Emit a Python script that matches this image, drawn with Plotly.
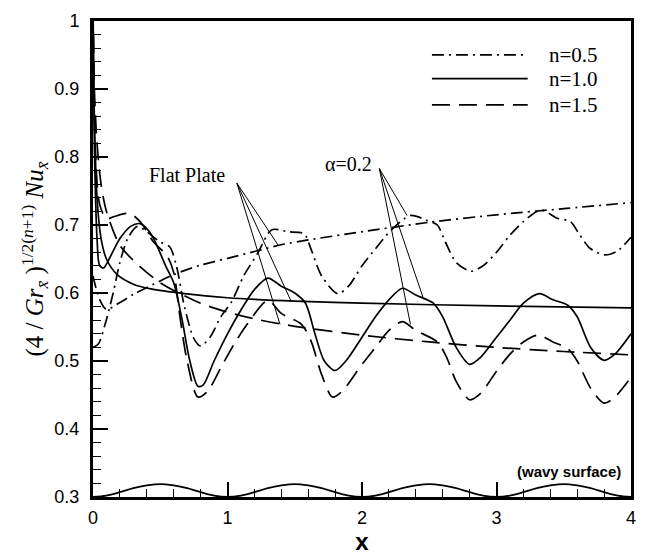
import plotly.graph_objects as go

# ---------------- data ----------------
flat05_x = [0.0, 0.05, 0.1, 0.2, 0.3, 0.4, 0.6, 0.8, 1.0, 1.2, 1.4, 1.6, 2.0, 2.5, 3.0, 3.5, 4.0]
flat05_y = [0.625, 0.59, 0.576, 0.586, 0.598, 0.608, 0.627, 0.641, 0.651, 0.661, 0.671, 0.678, 0.690, 0.704, 0.715, 0.724, 0.733]

flat10_x = [0.0, 0.01, 0.03, 0.06, 0.1, 0.18, 0.3, 0.43, 0.68, 1.0, 1.5, 2.0, 3.0, 4.0]
flat10_y = [1.02, 0.86, 0.74, 0.68, 0.65, 0.627, 0.613, 0.606, 0.599, 0.593, 0.588, 0.585, 0.581, 0.578]

flat15_x = [0.0, 0.01, 0.03, 0.06, 0.1, 0.2, 0.3, 0.5, 0.8, 1.0, 1.2, 1.5, 2.0, 2.5, 3.0, 3.5, 4.0]
flat15_y = [1.02, 0.90, 0.82, 0.76, 0.72, 0.67, 0.648, 0.615, 0.585, 0.572, 0.562, 0.551, 0.538, 0.528, 0.52, 0.514, 0.509]

wavy05_x = [0.0, 0.04, 0.09, 0.15, 0.2, 0.26, 0.33, 0.4, 0.5, 0.57, 0.62, 0.68, 0.75, 0.8, 0.87, 0.95,
            1.03, 1.12, 1.22, 1.33, 1.45, 1.57, 1.62, 1.7, 1.82, 1.9, 2.0, 2.1, 2.21, 2.36, 2.48, 2.56,
            2.62, 2.7, 2.81, 2.9, 3.0, 3.1, 3.2, 3.33, 3.45, 3.55, 3.62, 3.7, 3.81, 3.9, 4.0]
wavy05_y = [0.52, 0.525, 0.554, 0.6, 0.645, 0.681, 0.698, 0.69, 0.675, 0.668, 0.64, 0.58, 0.533, 0.522, 0.535, 0.565,
            0.587, 0.625, 0.657, 0.693, 0.69, 0.687, 0.665, 0.625, 0.599, 0.61, 0.64, 0.665, 0.691, 0.714, 0.707, 0.70,
            0.675, 0.645, 0.632, 0.64, 0.66, 0.685, 0.705, 0.722, 0.71, 0.705, 0.685, 0.665, 0.656, 0.662, 0.682]

wavy10_x = [0.0, 0.01, 0.03, 0.05, 0.08, 0.12, 0.2, 0.28, 0.35, 0.42, 0.47, 0.54, 0.6, 0.66, 0.72, 0.78, 0.82, 0.9,
            1.0, 1.1, 1.2, 1.3, 1.4, 1.5, 1.58, 1.65, 1.72, 1.8, 1.88, 2.0, 2.1, 2.2, 2.3, 2.4, 2.53, 2.6,
            2.7, 2.8, 2.88, 3.0, 3.1, 3.2, 3.32, 3.42, 3.53, 3.6, 3.7, 3.8, 3.88, 4.0]
wavy10_y = [1.02, 0.82, 0.68, 0.64, 0.637, 0.65, 0.68, 0.698, 0.702, 0.69, 0.672, 0.64, 0.615, 0.563, 0.50, 0.463, 0.465, 0.50,
            0.54, 0.575, 0.605, 0.622, 0.61, 0.60, 0.585, 0.54, 0.50, 0.486, 0.50, 0.535, 0.565, 0.59, 0.607, 0.597, 0.585, 0.565,
            0.52, 0.495, 0.505, 0.535, 0.56, 0.585, 0.599, 0.59, 0.582, 0.565, 0.52, 0.501, 0.51, 0.54]

wavy15_x = [0.0, 0.02, 0.05, 0.1, 0.15, 0.27, 0.35, 0.45, 0.55, 0.6, 0.65, 0.7, 0.78, 0.85, 0.95,
            1.05, 1.15, 1.3, 1.4, 1.55, 1.62, 1.7, 1.78, 1.85, 2.0, 2.1, 2.2, 2.3, 2.4, 2.56, 2.63,
            2.7, 2.8, 2.88, 3.0, 3.1, 3.2, 3.31, 3.42, 3.53, 3.6, 3.7, 3.8, 3.88, 4.0]
wavy15_y = [1.02, 0.80, 0.73, 0.709, 0.712, 0.717, 0.705, 0.675, 0.655, 0.63, 0.56, 0.50, 0.447, 0.455, 0.49,
            0.525, 0.555, 0.589, 0.57, 0.554, 0.53, 0.48, 0.447, 0.455, 0.495, 0.52, 0.545, 0.558, 0.545, 0.528, 0.505,
            0.47, 0.443, 0.452, 0.485, 0.51, 0.528, 0.538, 0.528, 0.518, 0.50, 0.46, 0.438, 0.447, 0.476]

surface_x = [i / 10 for i in range(41)]
surface_y = [0.300, 0.302, 0.307, 0.313, 0.317, 0.319, 0.317, 0.313, 0.307, 0.302,
             0.300, 0.302, 0.307, 0.313, 0.317, 0.319, 0.317, 0.313, 0.307, 0.302,
             0.300, 0.302, 0.307, 0.313, 0.317, 0.319, 0.317, 0.313, 0.307, 0.302,
             0.300, 0.302, 0.307, 0.313, 0.317, 0.319, 0.317, 0.313, 0.307, 0.302,
             0.300]

legend_labels = ["n=0.5", "n=1.0", "n=1.5"]

# leader-line targets (x, y)
flat_label = (0.70, 0.773)
flat_apex = (1.07, 0.7615)
flat_targets = [(1.378, 0.670), (1.475, 0.587), (1.39, 0.554)]
alpha_label = (1.90, 0.79)
alpha_apex = (2.129, 0.783)
alpha_targets = [(2.335, 0.714), (2.458, 0.591), (2.36, 0.554)]

# ---------------- styling ----------------
DASHDOT = "12px,5px,2px,5px"
DASH = "18px,9px"
SERIF = "Liberation Serif"
SANS = "Liberation Sans"
LW = 1.7

fig = go.Figure()

def add(x, y, dash):
    fig.add_trace(go.Scatter(x=x, y=y, mode="lines",
                             line=dict(color="black", width=LW, dash=dash, shape="spline", smoothing=0.8),
                             showlegend=False, hoverinfo="skip"))

add(flat05_x, flat05_y, DASHDOT)
add(flat10_x, flat10_y, "solid")
add(flat15_x, flat15_y, DASH)
add(wavy05_x, wavy05_y, DASHDOT)
add(wavy10_x, wavy10_y, "solid")
add(wavy15_x, wavy15_y, DASH)
fig.add_trace(go.Scatter(x=surface_x, y=surface_y, mode="lines",
                         line=dict(color="black", width=1.8, shape="spline"),
                         showlegend=False, hoverinfo="skip"))

shapes = []
for tx, ty in flat_targets:
    shapes.append(dict(type="line", xref="x", yref="y", x0=flat_apex[0], y0=flat_apex[1], x1=tx, y1=ty,
                       line=dict(color="black", width=1)))
for tx, ty in alpha_targets:
    shapes.append(dict(type="line", xref="x", yref="y", x0=alpha_apex[0], y0=alpha_apex[1], x1=tx, y1=ty,
                       line=dict(color="black", width=1)))

# manual legend
leg_rows = [0.929, 0.879, 0.824]
leg_dash = [DASHDOT, "solid", DASH]
annotations = []
for lab, yy, dd in zip(legend_labels, leg_rows, leg_dash):
    shapes.append(dict(type="line", xref="paper", yref="paper", x0=0.63, x1=0.808, y0=yy, y1=yy,
                       line=dict(color="black", width=LW, dash=dd)))
    annotations.append(dict(xref="paper", yref="paper", x=0.843, y=yy, text=lab, showarrow=False,
                            xanchor="left", yanchor="middle", font=dict(family=SERIF, size=21, color="black")))

annotations.append(dict(x=flat_label[0], y=flat_label[1], text="Flat Plate", showarrow=False,
                        xanchor="center", yanchor="middle", font=dict(family=SERIF, size=20, color="black")))
annotations.append(dict(x=alpha_label[0], y=alpha_label[1], text="α=0.2", showarrow=False,
                        xanchor="center", yanchor="middle", font=dict(family=SERIF, size=20, color="black")))
annotations.append(dict(x=3.94, y=0.337, text="<b>(wavy surface)</b>", showarrow=False,
                        xanchor="right", yanchor="middle", font=dict(family=SANS, size=15, color="black")))

axis_common = dict(showgrid=False, zeroline=False, showline=True, linecolor="black", linewidth=3,
                   mirror=True, ticks="inside", ticklen=15, tickwidth=2, tickcolor="black",
                   tickfont=dict(family=SANS, size=18, color="black"))

fig.update_layout(
    width=647, height=555,
    margin=dict(l=93, r=11, t=15, b=46),
    paper_bgcolor="white", plot_bgcolor="white",
    shapes=shapes, annotations=annotations,
    xaxis=dict(range=[0, 4], dtick=1, tick0=0, ticklabelstandoff=2,
               minor=dict(dtick=0.2, ticks="inside", ticklen=8, tickwidth=1.2, tickcolor="black"),
               title=dict(text="<b>x</b>", font=dict(family=SANS, size=24, color="black"), standoff=0),
               **axis_common),
    yaxis=dict(range=[0.3, 1.0], dtick=0.1, tick0=0.3, ticklabelstandoff=7,
               minor=dict(dtick=0.02, ticks="inside", ticklen=8, tickwidth=1.2, tickcolor="black"),
               title=dict(text="(4 / <i>Gr</i><sub><i>x\u0304</i></sub> )<sup>1/2(<i>n</i>+1)</sup> <i>Nu</i><sub><i>x\u0304</i></sub>",
                          font=dict(family=SERIF, size=25, color="black"), standoff=4),
               **axis_common),
)

fig.write_html("out.html")
